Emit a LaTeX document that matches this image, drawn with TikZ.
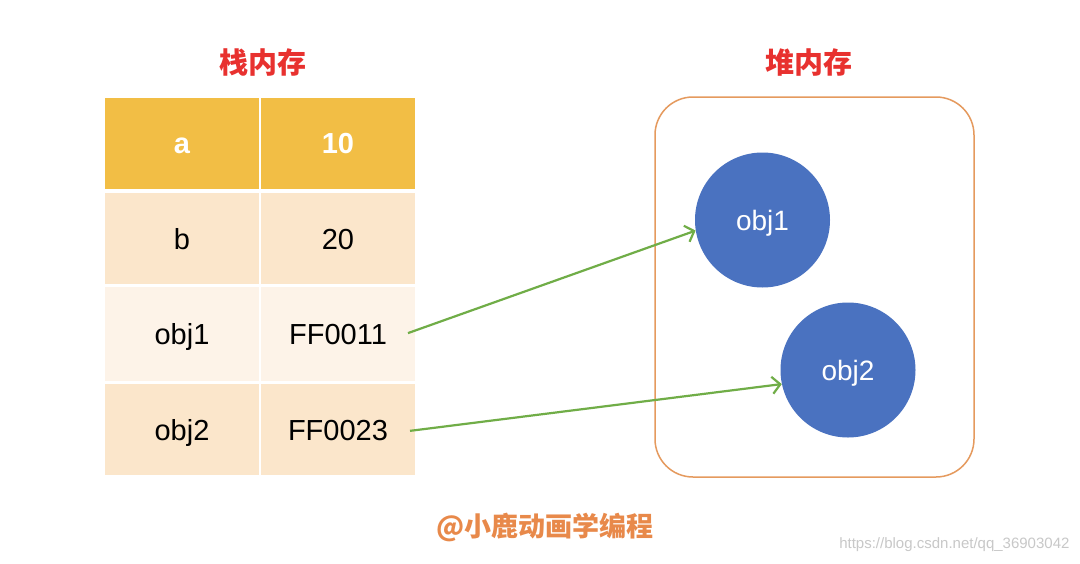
\documentclass[tikz,border=0pt]{standalone}
\usepackage{fontspec}
\setmainfont{Liberation Sans}
\newfontfamily\cjk{Noto Sans CJK SC}
\usetikzlibrary{arrows.meta}
\definecolor{hdr}{HTML}{F2BE45}
\definecolor{rowa}{HTML}{FBE6CB}
\definecolor{rowb}{HTML}{FDF3E8}
\definecolor{ttl}{HTML}{E8312F}
\definecolor{heap}{HTML}{E59A5E}
\definecolor{objc}{HTML}{4A72C0}
\definecolor{arr}{HTML}{70AD47}
\definecolor{wm}{HTML}{E8894A}
\definecolor{url}{HTML}{C8C8C8}
\tikzset{
  x=1pt,y=-1pt,
  cell/.style={rectangle,inner sep=0pt,minimum width=154pt,minimum height=#1,text height=21pt,text depth=0pt,font=\fontsize{29}{34}\selectfont},
  txt/.style={inner sep=3pt,text height=21pt,text depth=0pt,font=\fontsize{29}{34}\selectfont},
  title/.style={font=\cjk\bfseries\fontsize{29}{34}\selectfont,text=ttl},
  obj/.style={circle,fill=objc,minimum size=135pt,inner sep=0pt,text=white,text height=20pt,text depth=0pt,font=\fontsize{28}{33}\selectfont},
  ptr/.style={draw=arr,line width=2.2pt,-{Straight Barb[length=8pt,width=17pt,line width=2.2pt]},shorten <=19pt},
}
\begin{document}
\begin{tikzpicture}
\useasboundingbox (0,0) rectangle (1080,563);
\fill[white] (0,0) rectangle (1080,563);
% titles
\node[title] (st) at (263,62) {栈内存};
\node[title] (hp) at (809,62) {堆内存};
% table
\node[cell=91pt,fill=hdr,text=white,font=\bfseries\fontsize{29}{34}\selectfont] (k1) at (182,143) {a};
\node[cell=91pt,fill=hdr,text=white,font=\bfseries\fontsize{29}{34}\selectfont] (v1) at (338,143) {10};
\node[cell=91pt,fill=rowa] (k2) at (182,238.5) {b};
\node[cell=91pt,fill=rowa] (v2) at (338,238.5) {20};
\node[cell=94pt,fill=rowb] (k3) at (182,334) {obj1};
\node[cell=94pt,fill=rowb] (v3c) at (338,334) {};
\node[cell=91pt,fill=rowa] (k4) at (182,429.5) {obj2};
\node[cell=91pt,fill=rowa] (v4c) at (338,429.5) {};
\node[txt] (v3) at (338,334) {FF0011};
\node[txt] (v4) at (338,429.5) {FF0023};
% heap
\node[draw=heap,line width=1.5pt,rounded corners=38pt,minimum width=319pt,minimum height=380pt] (heapbox) at (814.5,287) {};
\node[obj] (c1) at (762.5,220) {obj1};
\node[obj] (c2) at (848,370) {obj2};
% pointers
\draw[ptr] (v3.-6) -- (c1.189);
\draw[ptr] (v4.-4) -- (c2.192);
% watermark
\node[font=\cjk\bfseries\fontsize{27}{32}\selectfont,text=wm] (wmk) at (545,527) {@小鹿动画学编程};
\node[font=\fontsize{15}{18}\selectfont,text=url,anchor=east] (urlk) at (1073,545) {https://blog.csdn.net/qq\_36903042};
\end{tikzpicture}
\end{document}
